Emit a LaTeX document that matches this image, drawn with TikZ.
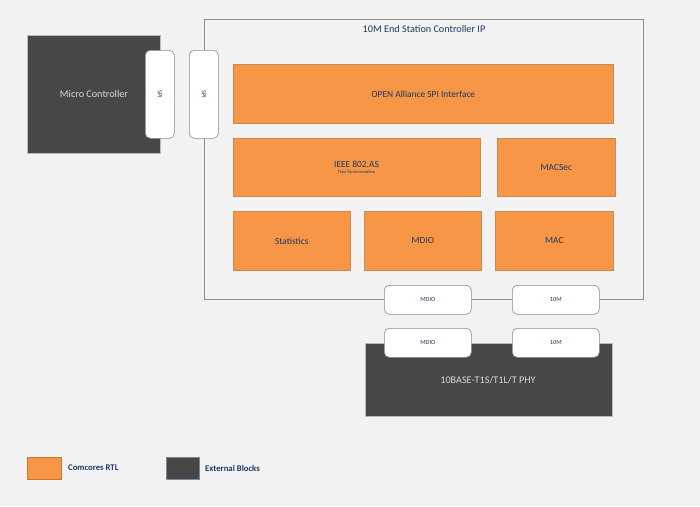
\documentclass[tikz,border=0pt]{standalone}
\usepackage{fontspec}
\setmainfont{Carlito}
\definecolor{bg}{HTML}{F2F2F2}
\definecolor{org}{HTML}{F79646}
\definecolor{orgb}{HTML}{C98A5A}
\definecolor{ext}{HTML}{474747}
\definecolor{txt}{HTML}{1F3864}
\definecolor{frame}{HTML}{8C8C8C}
\begin{document}
\begin{tikzpicture}[x=1pt,y=-1pt,
  rtl/.style={draw=orgb,line width=0.6pt,fill=org,inner sep=0pt,font=\fontsize{9.4}{10}\selectfont,text=txt},
  extb/.style={draw=frame!60,line width=0.4pt,fill=ext,inner sep=0pt},
  pill/.style={draw=frame,line width=0.6pt,fill=white,rounded corners=5pt,inner sep=0pt,font=\fontsize{6.3}{7}\selectfont,text=txt},
  legtxt/.style={font=\bfseries\fontsize{8.7}{10}\selectfont,text=txt,anchor=west,inner sep=0pt}]
\fill[bg] (0,0) rectangle (700,506);
\useasboundingbox (0,0) rectangle (700,506);
% main frame
\node[draw=frame,line width=0.6pt,minimum width=439,minimum height=280,anchor=north west,inner sep=0pt] (ip) at (204,19) {};
\node[font=\fontsize{10.2}{11}\selectfont,text=txt,inner sep=0pt] (iptitle) at (424,29) {10M End Station Controller IP};
% micro controller
\node[extb,minimum width=133,minimum height=118,anchor=north west] (mc) at (27,35) {};
\node[font=\fontsize{10.2}{11}\selectfont,text=white!85!black,inner sep=0pt] (mct) at (94,94) {Micro Controller};
\node[pill,minimum width=29,minimum height=88,anchor=north west] (spi1) at (145,50) {};
\node[font=\fontsize{6.3}{7}\selectfont,text=txt,rotate=-90,inner sep=0pt] (spi1t) at (spi1.center) {SPI};
\node[pill,minimum width=29,minimum height=88,anchor=north west] (spi2) at (189,50) {};
\node[font=\fontsize{6.3}{7}\selectfont,text=txt,rotate=-90,inner sep=0pt] (spi2t) at (spi2.center) {SPI};
% RTL blocks
\node[rtl,minimum width=380,minimum height=59,anchor=north west] (oa) at (233,64) {OPEN Alliance SPI Interface};
\node[rtl,minimum width=247,minimum height=58,anchor=north west] (ieee) at (233,138) {};
\node[font=\fontsize{9.4}{10}\selectfont,text=txt,inner sep=0pt] (ieeet) at (356.5,164) {IEEE 802.AS};
\node[font=\fontsize{4.3}{5}\selectfont,text=txt,inner sep=0pt] (ieees) at (356.5,172.5) {Time Synchronization};
\node[rtl,minimum width=118,minimum height=58,anchor=north west] (macsec) at (497,138) {MACSec};
\node[rtl,minimum width=117,minimum height=59,anchor=north west] (stat) at (233,211) {Statistics};
\node[rtl,minimum width=117,minimum height=59,anchor=north west] (mdio) at (364,211) {MDIO};
\node[rtl,minimum width=118,minimum height=59,anchor=north west] (mac) at (495,211) {MAC};
% bottom interface pills
\node[pill,minimum width=87,minimum height=29,anchor=north west] (pm1) at (384,285) {MDIO};
\node[pill,minimum width=87,minimum height=29,anchor=north west] (p101) at (512,285) {10M};
% PHY
\node[extb,minimum width=247,minimum height=73,anchor=north west] (phy) at (365,343) {};
\node[font=\fontsize{10.2}{11}\selectfont,text=white!85!black,inner sep=0pt] (phyt) at (488,380) {10BASE-T1S/T1L/T PHY};
\node[pill,minimum width=87,minimum height=29,anchor=north west] (pm2) at (384,328) {MDIO};
\node[pill,minimum width=87,minimum height=29,anchor=north west] (p102) at (512,328) {10M};
% legend
\node[fill=org,draw=org!80!black,line width=0.3pt,minimum width=34,minimum height=22,anchor=north west,inner sep=0pt] (lg1) at (27,457) {};
\node[legtxt] (lg1t) at (68,468) {Comcores RTL};
\node[fill=ext,draw=txt!60,line width=0.3pt,minimum width=33,minimum height=22,anchor=north west,inner sep=0pt] (lg2) at (166,457) {};
\node[legtxt] (lg2t) at (205,468) {External Blocks};
\end{tikzpicture}
\end{document}
